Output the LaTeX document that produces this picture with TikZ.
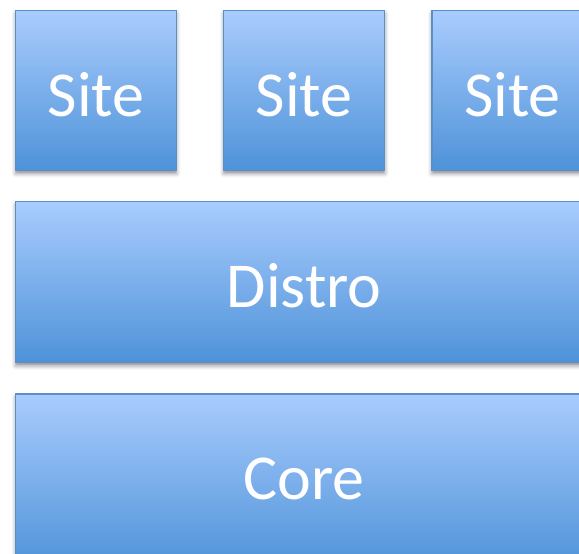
\documentclass[tikz,border=0pt]{standalone}
\usepackage{fontspec}
\setmainfont{Carlito}
\usetikzlibrary{positioning,shadows.blur}
\definecolor{layertop}{HTML}{A9CCFE}
\definecolor{layerbottom}{HTML}{4E92D8}
\definecolor{layerline}{HTML}{5B8FCB}

\begin{document}
\begin{tikzpicture}[x=1pt, y=-1pt,
  layertext/.style={text=white, font=\fontsize{64}{70}\selectfont, inner sep=0pt, text height=58pt, text depth=7pt},
  layer/.style={layertext, rectangle, draw=layerline, line width=1.2pt, top color=layertop, bottom color=layerbottom, blur shadow={shadow xshift=0pt, shadow yshift=-3pt, shadow blur radius=4pt, shadow opacity=45}},
  node distance=46pt]

\useasboundingbox (0,0) rectangle (579,554);
\clip (0,0) rectangle (579,554);

\node[layer, minimum width=161pt, minimum height=160pt, anchor=north west] (site1) at (15,10) {Site};
\node[layer, minimum width=161pt, minimum height=160pt, right=of site1] (site2) {Site};
\node[layer, minimum width=161pt, minimum height=160pt, right=of site2] (site3) {Site};

\node[layer, minimum width=577pt, minimum height=161pt, below=30pt of site1.south west, anchor=north west] (distro) {Distro};
\node[layer, minimum width=577pt, minimum height=175pt, below=30pt of distro.south west, anchor=north west] (core) {};
\node[layertext] (corelabel) at ([yshift=-80.5pt]core.north) {Core};

\end{tikzpicture}
\end{document}
